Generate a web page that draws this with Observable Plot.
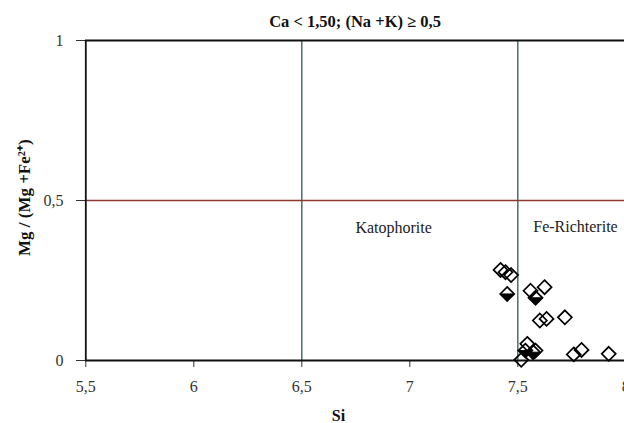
<!DOCTYPE html>
<html><head><meta charset="utf-8">
<script src="https://cdn.jsdelivr.net/npm/d3@7"></script>
<script src="https://cdn.jsdelivr.net/npm/@observablehq/plot@0.6"></script>
<style>
body{margin:0;background:#fff;}
#chart svg{overflow:visible;}
#chart svg text{font-family:"Liberation Serif","Times New Roman",serif !important;}
</style>
</head><body><div id="chart"></div>
<script>
const titleText = "Ca < 1,50; (Na +K) ≥ 0,5";
const xLabel = "Si";
const yLabel = "Mg / (Mg +Fe²⁺)";
const xTicks = [5.5, 6, 6.5, 7, 7.5, 8];
const yTicks = [0, 0.5, 1];
const boundSi = [6.5, 7.5];
const boundMg = [0.5];
const fieldNames = ["Katophorite", "Fe-Richterite"];
const fieldSi = [6.925, 7.767];
const fieldMg = [0.415, 0.419];
const yLabelSi = [5.2144];
const yLabelMg = [0.5086];
const openSi = [7.420, 7.443, 7.469, 7.559, 7.624, 7.602, 7.633, 7.718, 7.759, 7.795, 7.921, 7.516, 7.544, 7.582];
const openMg = [0.283, 0.276, 0.267, 0.218, 0.229, 0.125, 0.130, 0.135, 0.019, 0.033, 0.021, 0.002, 0.052, 0.031];
const halfSi = [7.451, 7.582, 7.535, 7.571];
const halfMg = [0.208, 0.196, 0.031, 0.026];

const openPts = openSi.map((x, i) => ({x, y: openMg[i]}));
const halfPts = halfSi.map((x, i) => ({x, y: halfMg[i]}));
const fields = fieldNames.map((name, i) => ({name, x: fieldSi[i], y: fieldMg[i]}));
const yTitle = [{text: yLabel, x: yLabelSi[0], y: yLabelMg[0]}];

const diamond = {draw(ctx, size) {
  const h = Math.sqrt(size / Math.PI);
  ctx.moveTo(0, -h); ctx.lineTo(h, 0); ctx.lineTo(0, h); ctx.lineTo(-h, 0); ctx.closePath();
}};
const lowerHalf = {draw(ctx, size) {
  const h = Math.sqrt(size / Math.PI);
  ctx.moveTo(-h, 0); ctx.lineTo(h, 0); ctx.lineTo(0, h); ctx.closePath();
}};
const fmt = d => String(d).replace(".", ",");
const serif = "Liberation Serif, Times New Roman, serif";

const chart = Plot.plot({
  width: 624,
  height: 423,
  marginTop: 40,
  marginBottom: 63,
  marginLeft: 85,
  marginRight: 0,
  style: {fontFamily: serif, fontSize: "16px", color: "#333", background: "#fff"},
  x: {domain: [5.5, 8], range: [85.3, 625.3], ticks: xTicks, tickFormat: fmt, tickSize: 7, tickPadding: 13, label: null},
  y: {domain: [0, 1], ticks: yTicks, tickFormat: fmt, tickSize: 9, tickPadding: 13, label: null},
  marks: [
    Plot.ruleX(boundSi, {stroke: "#3f6464", strokeWidth: 1.4}),
    Plot.ruleY(boundMg, {stroke: "#8e3a30", strokeWidth: 1.4}),
    Plot.ruleY([1], {stroke: "#111", strokeWidth: 2}),
    Plot.ruleY([0], {stroke: "#111", strokeWidth: 1.8}),
    Plot.ruleX([5.5], {stroke: "#111", strokeWidth: 1.8}),
    Plot.text(fields, {x: "x", y: "y", text: "name", fill: "#222", fontSize: 16, fontFamily: serif}),
    Plot.dot(halfPts, {x: "x", y: "y", r: 7, symbol: lowerHalf, fill: "#000", stroke: "#000", strokeWidth: 1}),
    Plot.dot(openPts.concat(halfPts), {x: "x", y: "y", r: 7, symbol: diamond, fill: "none", stroke: "#000", strokeWidth: 1.7}),
    Plot.text([titleText], {frameAnchor: "top", dy: -25.5, fontWeight: "bold", fontSize: 16.5, fill: "#111", fontFamily: serif}),
    Plot.text([xLabel], {frameAnchor: "bottom", dx: -16.5, dy: 60, fontWeight: "bold", fontSize: 16, fill: "#111", fontFamily: serif}),
    Plot.text(yTitle, {x: "x", y: "y", text: "text", rotate: -90, fontWeight: "bold", fontSize: 17, fill: "#111", fontFamily: serif})
  ]
});
document.getElementById("chart").appendChild(chart);
</script>
</body></html>
